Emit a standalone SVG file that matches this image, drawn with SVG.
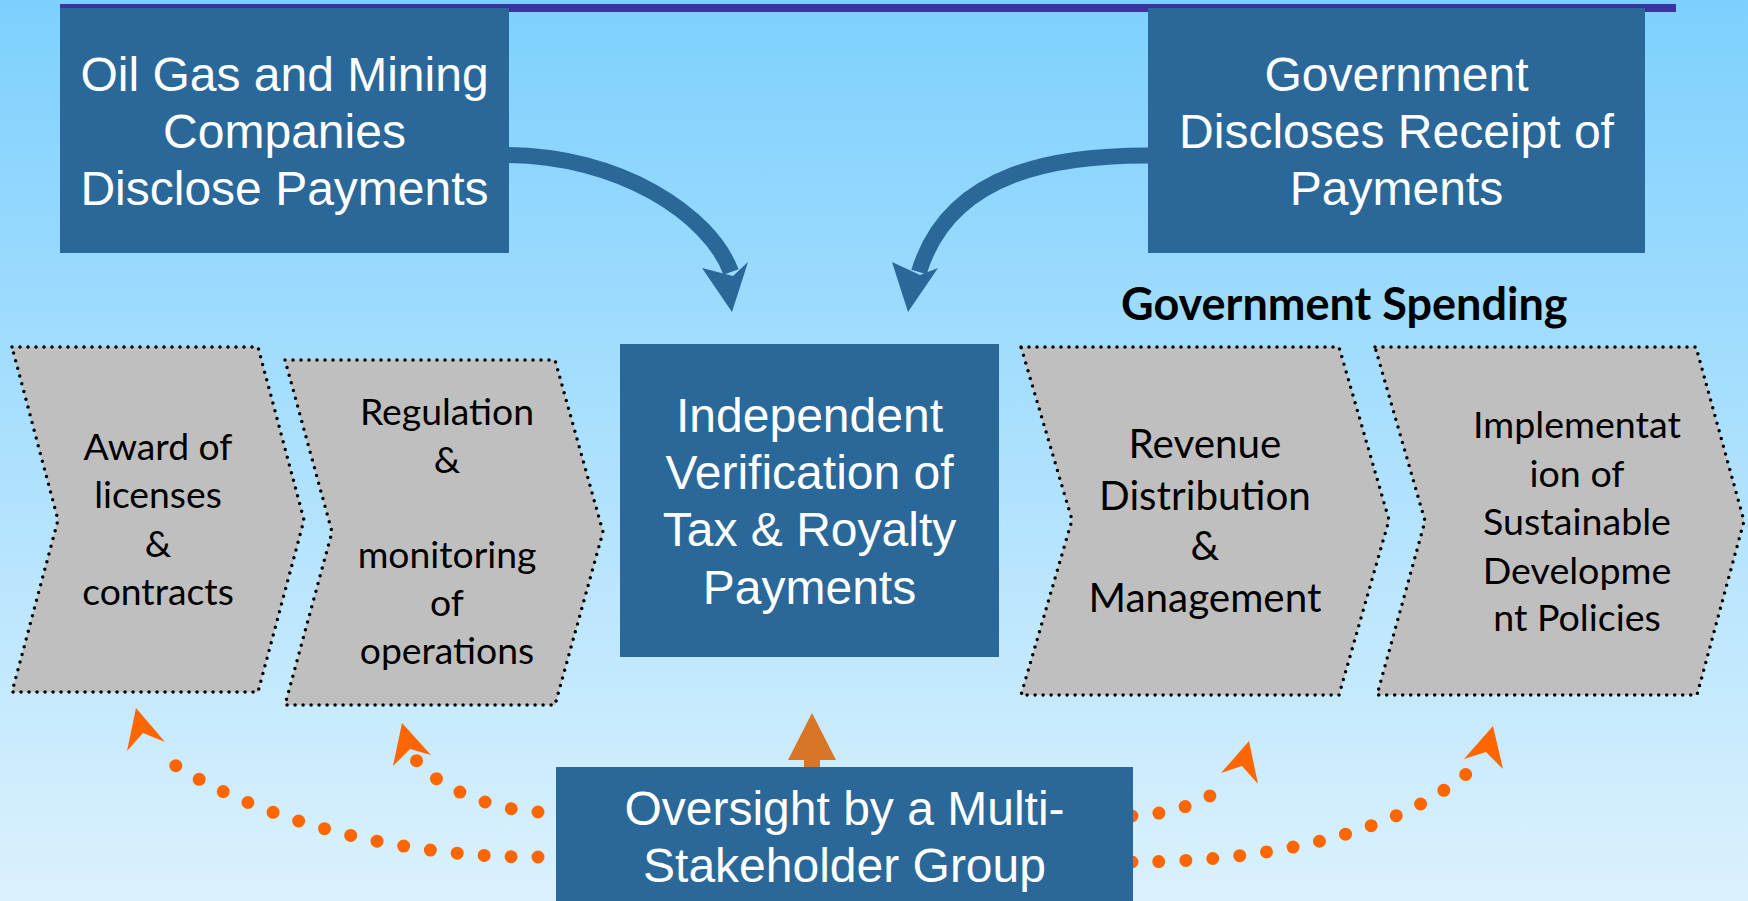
<svg xmlns="http://www.w3.org/2000/svg" width="1748" height="901" viewBox="0 0 1748 901">
<defs>
<linearGradient id="bg" x1="0" y1="0" x2="0" y2="1">
<stop offset="0" stop-color="#7dd0fe"/>
<stop offset="1" stop-color="#dbf1fd"/>
</linearGradient>
<style>
.box{fill:#2a6899}
.bt{font-family:"Liberation Sans",Arial,sans-serif;font-size:48px;fill:#ffffff;text-anchor:middle}
.chev{fill:#bfbfbf;stroke:#000;stroke-width:3.5;stroke-dasharray:0 8;stroke-linecap:round;stroke-linejoin:round}
.ct{font-family:Lato,"Open Sans",sans-serif;font-size:37.3px;fill:#000;text-anchor:middle}
.blue{fill:none;stroke:#2a6899;stroke-width:16}
.bhead{fill:#2a6899}
.dots{fill:none;stroke:#ff6600;stroke-width:13;stroke-dasharray:0 27;stroke-linecap:round}
.ohead{fill:#ff6600}
</style>
</defs>
<rect x="0" y="0" width="1748" height="901" fill="url(#bg)"/>
<rect x="60" y="4" width="1616" height="8" fill="#3a33a0"/>

<g id="connectors">
<path class="blue" d="M 505 155 C 620 155 710 215 731 272"/>
<polygon class="bhead" points="732,312 748,262 733,276 702,268"/>
<path class="blue" d="M 1151 155.5 C 1060 155 950 170 919 272"/>
<polygon class="bhead" points="908,312 892,262 920,275 938,268"/>

<path class="dots" d="M 538 857 C 430 858 270 832 158 754"/>
<polygon class="ohead" points="136,708 165,742 143,733 127,751"/>
<path class="dots" d="M 538 812 C 495 810 440 790 416 760"/>
<polygon class="ohead" points="402,723 431,755 410,749 393,766"/>
<path class="dots" d="M 1132 816 C 1175 814 1212 800 1231 780"/>
<polygon class="ohead" points="1249,741 1258,784 1242,766 1221,773"/>
<path class="dots" d="M 1132 862 C 1250 862 1400 840 1482 760"/>
<polygon class="ohead" points="1493,726 1503,769 1486,752 1464,759"/>

<polygon fill="#d87526" points="812,713 836,760 820,760 820,769 804,769 804,760 788,760"/>
</g>

<g id="companies">
<rect class="box" x="60" y="8" width="449" height="245"/>
<text class="bt" x="284.5" y="91">Oil Gas and Mining</text>
<text class="bt" x="284.5" y="148">Companies</text>
<text class="bt" x="284.5" y="205">Disclose Payments</text>
</g>

<g id="government">
<rect class="box" x="1148" y="8" width="497" height="245"/>
<text class="bt" x="1396.5" y="91">Government</text>
<text class="bt" x="1396.5" y="148">Discloses Receipt of</text>
<text class="bt" x="1396.5" y="205">Payments</text>
</g>

<g id="verification">
<rect class="box" x="620" y="344" width="379" height="313"/>
<text class="bt" x="809.5" y="432">Independent</text>
<text class="bt" x="809.5" y="489">Verification of</text>
<text class="bt" x="809.5" y="546">Tax &amp; Royalty</text>
<text class="bt" x="809.5" y="604">Payments</text>
</g>

<g id="oversight">
<rect class="box" x="556" y="767" width="577" height="140"/>
<text class="bt" x="844.5" y="825">Oversight by a Multi-</text>
<text class="bt" x="844.5" y="882">Stakeholder Group</text>
</g>

<g id="award">
<polygon class="chev" points="12,347 258,347 304,520 258,692 12,692 58,520"/>
<text class="ct" x="158" y="460">Award of</text>
<text class="ct" x="158" y="508">licenses</text>
<text class="ct" x="158" y="557">&amp;</text>
<text class="ct" x="158" y="605">contracts</text>
</g>

<g id="regulation">
<polygon class="chev" points="285,360 555,360 603,532 555,705 285,705 332,532"/>
<text class="ct" x="447" y="425">Regulation</text>
<text class="ct" x="447" y="473">&amp;</text>
<text class="ct" x="447" y="568">monitoring</text>
<text class="ct" x="447" y="616">of</text>
<text class="ct" x="447" y="664">operations</text>
</g>

<text id="spending-label" x="1121" y="320" font-family="Lato,'Open Sans',sans-serif" font-weight="bold" font-size="45" fill="#000">Government Spending</text>

<g id="revenue">
<polygon class="chev" points="1021,347 1339,347 1389,520 1339,695 1021,695 1072,520"/>
<text class="ct" x="1205" y="458" style="font-size:40.4px">Revenue</text>
<text class="ct" x="1205" y="510" style="font-size:40.4px">Distribution</text>
<text class="ct" x="1205" y="560" style="font-size:40.4px">&amp;</text>
<text class="ct" x="1205" y="612" style="font-size:40.4px">Management</text>
</g>

<g id="implementation">
<polygon class="chev" points="1375,347 1696,347 1744,521 1697,695 1377,695 1425,521"/>
<text class="ct" x="1577" y="438" style="font-size:37.6px">Implementat</text>
<text class="ct" x="1577" y="487" style="font-size:37.6px">ion of</text>
<text class="ct" x="1577" y="535" style="font-size:37.6px">Sustainable</text>
<text class="ct" x="1577" y="584" style="font-size:37.6px">Developme</text>
<text class="ct" x="1577" y="631" style="font-size:37.6px">nt Policies</text>
</g>
</svg>
